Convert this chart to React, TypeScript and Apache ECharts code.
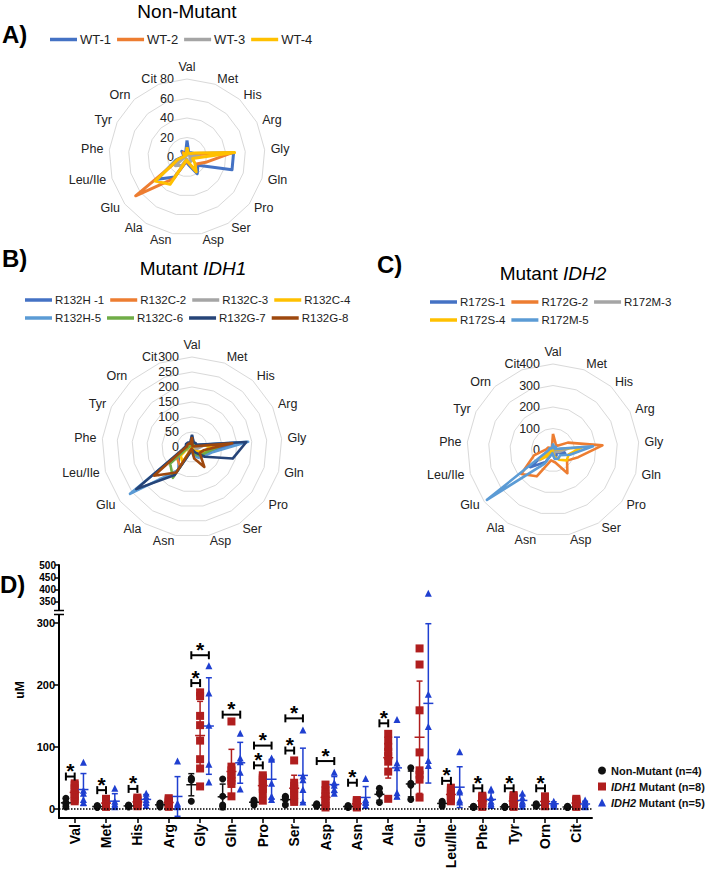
import React, { useEffect, useRef } from "react";
import * as echarts from "echarts";

const FONT = '"Liberation Sans", Arial, Helvetica, sans-serif';

// ---------- categories ----------
const aminoAcids = ["Val", "Met", "His", "Arg", "Gly", "Gln", "Pro", "Ser", "Asp", "Asn", "Ala", "Glu", "Leu/Ile", "Phe", "Tyr", "Orn", "Cit"];

// ---------- Non-mutant samples (uM), order = aminoAcids ----------
const wtNames = ["WT-1", "WT-2", "WT-3", "WT-4"];
const wtColors = ["#4472C4", "#ED7D31", "#A5A5A5", "#FFC000"];
const wt1 = [17, 5, 6, 8, 48, 48, 14, 20, 8, 5, 24, 38, 12, 4, 4, 8, 4];
const wt2 = [8, 3, 4, 5, 46, 20, 12, 15, 6, 4, 26, 66, 8, 3, 3, 6, 3];
const wt3 = [3, 2, 3, 3, 12, 3, 6, 6, 4, 2, 10, 15, 4, 2, 2, 4, 2];
const wt4 = [10, 4, 5, 9, 49, 6, 10, 18, 5, 3, 33, 41, 10, 3, 3, 5, 2];

// ---------- IDH1 mutant samples ----------
const idh1Names = ["R132H -1", "R132C-2", "R132C-3", "R132C-4", "R132H-5", "R132C-6", "R132G-7", "R132G-8"];
const idh1Colors = ["#4472C4", "#ED7D31", "#A5A5A5", "#FFC000", "#5B9BD5", "#70AD47", "#264478", "#9E480E"];
const r132h1 = [28, 12, 14, 13, 150, 62, 47, 37, 25, 11, 85, 55, 25, 15, 14, 13, 10];
const r132c2 = [20, 8, 10, 9, 80, 50, 36, 28, 15, 7, 76, 62, 22, 12, 11, 10, 8];
const r132c3 = [12, 3, 4, 3, 36, 20, 13, 11, 2, 2, 16, 18, 12, 3, 3, 4, 3];
const r132c4 = [15, 6, 8, 7, 65, 45, 25, 15, 5, 3, 60, 47, 15, 6, 5, 6, 4];
const r132h5 = [38, 14, 16, 15, 188, 68, 50, 42, 30, 13, 92, 259, 28, 19, 20, 18, 14];
const r132c6 = [24, 10, 12, 11, 110, 55, 42, 32, 20, 9, 121, 91, 18, 9, 8, 8, 6];
const r132g7 = [41, 16, 18, 17, 182, 141, 54, 22, 10, 14, 110, 233, 34, 21, 22, 20, 16];
const r132g8 = [33, 4, 6, 5, 135, 40, 32, 78, 39, 5, 100, 159, 30, 17, 17, 15, 12];

// ---------- IDH2 mutant samples ----------
const idh2Names = ["R172S-1", "R172G-2", "R172M-3", "R172S-4", "R172M-5"];
const idh2Colors = ["#4472C4", "#ED7D31", "#A5A5A5", "#FFC000", "#5B9BD5"];
const r172s1 = [25, 8, 15, 6, 43, 59, 20, 31, 38, 12, 66, 133, 27, 12, 12, 8, 7];
const r172g2 = [75, 33, 25, 77, 231, 122, 82, 127, 59, 49, 144, 185, 92, 32, 25, 12, 14];
const r172m3 = [15, 5, 10, 4, 72, 32, 15, 11, 25, 5, 20, 78, 14, 5, 4, 4, 3];
const r172s4 = [10, 3, 5, 3, 135, 76, 80, 53, 31, 10, 26, 70, 11, 8, 8, 6, 4];
const r172m5 = [30, 12, 20, 9, 187, 82, 41, 47, 42, 15, 74, 385, 30, 18, 18, 10, 10];

// ---------- dot plot groups ----------
const groupNames = ["Non-Mutant (n=4)", "IDH1 Mutant (n=8)", "IDH2 Mutant (n=5)"];
const groupColors = ["#111111", "#B01E1E", "#1F3FD0"];
const groupSymbols = ["circle", "rect", "triangle"];
const groupSymbolSizes = [7, 8, 7];
const groupOffsets = [-0.28, 0, 0.28];

// significance brackets (value of bracket line, uM)
const sigIdh1Cats = ["Val", "Met", "His", "Gly", "Pro", "Ser", "Asn", "Ala", "Leu/Ile", "Phe", "Tyr", "Orn"];
const sigIdh1Heights = [52, 30, 32, 203, 70, 94, 42, 138, 45, 33, 33, 33];
const sigIdh2Cats = ["Gly", "Gln", "Pro", "Ser", "Asp"];
const sigIdh2Heights = [248, 152, 102, 146, 77];

// axis ticks
const lowerTicks = [0, 100, 200, 300];
const upperTicks = [350, 400, 450, 500];

const reorder = <T,>(a: T[]): T[] => [a[0], ...a.slice(1).reverse()];

export default function App() {
  const ref = useRef<HTMLDivElement>(null);
  useEffect(() => {
    document.body.style.margin = "0";
    document.body.style.background = "#fff";
    if (!ref.current) return;
    const chart = echarts.init(ref.current, undefined, { renderer: "svg" });

    const wtSamples = [wt1, wt2, wt3, wt4];
    const idh1Samples = [r132h1, r132c2, r132c3, r132c4, r132h5, r132c6, r132g7, r132g8];
    const idh2Samples = [r172s1, r172g2, r172m3, r172s4, r172m5];
    const groups = [wtSamples, idh1Samples, idh2Samples];

    const makeRadar = (center: number[], radius: number, max: number, splitNumber: number) => ({
      center,
      radius,
      startAngle: 90,
      shape: "polygon",
      splitNumber,
      nameGap: 6,
      indicator: reorder(aminoAcids).map((n, i) =>
        i === 0 ? { name: n, min: 0, max, axisLabel: { show: true } } : { name: n, min: 0, max }
      ),
      axisName: { color: "#222", fontSize: 12.5, fontFamily: FONT },
      splitLine: { lineStyle: { color: "#d9d9d9", width: 1 } },
      splitArea: { show: false },
      axisLine: { show: false },
      axisTick: { show: false },
      axisLabel: { show: false, color: "#222", fontSize: 12.5, margin: 13, fontFamily: FONT },
    });

    const radarSeries = (idx: number, names: string[], colors: string[], samples: number[][], width: number) => ({
      type: "radar",
      radarIndex: idx,
      symbol: "none",
      silent: true,
      data: samples.map((s, k) => ({
        name: names[k],
        value: reorder(s),
        lineStyle: { color: colors[k], width },
        itemStyle: { color: colors[k] },
      })),
    });

    const radarLegend = (names: string[], left: number, top: number, width: number, fontSize: number) => ({
      data: names,
      left,
      top,
      width,
      padding: 0,
      itemGap: 6,
      itemWidth: 27,
      itemHeight: 3.5,
      icon: "rect",
      selectedMode: false,
      textStyle: { color: "#222", fontSize, fontFamily: FONT, padding: [0, 0, 0, -2] },
    });

    // dot plot points
    const lowerMax = 313;
    const scatterSeries: any[] = [];
    groups.forEach((samples, g) => {
      const low: number[][] = [];
      const high: number[][] = [];
      aminoAcids.forEach((_, i) => {
        samples.forEach((s) => {
          const pt = [i + groupOffsets[g], s[i]];
          (s[i] > lowerMax ? high : low).push(pt);
        });
      });
      const base = {
        type: "scatter",
        name: groupNames[g],
        symbol: groupSymbols[g],
        symbolSize: groupSymbolSizes[g],
        itemStyle: { color: groupColors[g], opacity: 1 },
        silent: true,
        z: 3,
      };
      scatterSeries.push({ ...base, xAxisIndex: 1, yAxisIndex: 1, data: low });
      if (high.length) scatterSeries.push({ ...base, xAxisIndex: 0, yAxisIndex: 0, data: high });
    });

    // mean +- SD
    const errData: number[][] = [];
    groups.forEach((samples, g) => {
      aminoAcids.forEach((_, i) => {
        const vals = samples.map((s) => s[i]);
        const n = vals.length;
        const mean = vals.reduce((a, b) => a + b, 0) / n;
        const sd = Math.sqrt(vals.reduce((a, b) => a + (b - mean) * (b - mean), 0) / (n - 1));
        errData.push([i + groupOffsets[g], mean, sd, g]);
      });
    });

    const bracketData: number[][] = [];
    sigIdh1Cats.forEach((c, k) => bracketData.push([aminoAcids.indexOf(c), sigIdh1Heights[k], 0]));
    sigIdh2Cats.forEach((c, k) => bracketData.push([aminoAcids.indexOf(c), sigIdh2Heights[k], 1]));

    const textStyle = (text: string, font: string, align = "left", v = "top", extra: any = {}) => ({
      text,
      font,
      fill: "#000",
      textAlign: align,
      textVerticalAlign: v,
      align,
      verticalAlign: v,
      ...extra,
    });

    const option: any = {
      animation: false,
      backgroundColor: "#fff",
      textStyle: { fontFamily: FONT },
      radar: [
        makeRadar([187, 157], 78, 80, 4),
        makeRadar([192, 447], 90, 300, 6),
        makeRadar([553, 450], 86, 400, 4),
      ],
      legend: [
        radarLegend(wtNames, 50, 33, 330, 13),
        radarLegend(idh1Names, 25, 294, 345, 11.5),
        radarLegend(idh2Names, 430, 296, 265, 11.5),
        {
          data: groupNames,
          orient: "vertical",
          left: 598,
          top: 765,
          padding: 0,
          itemGap: 5,
          itemWidth: 8,
          itemHeight: 8,
          selectedMode: false,
          formatter: (name: string) =>
            name.startsWith("IDH") ? `{i|${name.slice(0, 4)}}{b|${name.slice(4)}}` : `{b|${name}}`,
          textStyle: {
            color: "#111",
            fontSize: 11,
            fontWeight: "bold",
            fontFamily: FONT,
            rich: {
              i: { fontStyle: "italic", fontWeight: "bold", fontSize: 11, fontFamily: FONT, color: "#111" },
              b: { fontWeight: "bold", fontSize: 11, fontFamily: FONT, color: "#111" },
            },
          },
        },
      ],
      grid: [
        { left: 59, width: 533, top: 565, height: 45, outerBoundsMode: "none" },
        { left: 59, width: 533, top: 615, height: 203, outerBoundsMode: "none" },
      ],
      xAxis: [
        { gridIndex: 0, type: "value", min: -0.5, max: 16.5, show: false },
        {
          gridIndex: 1,
          type: "value",
          min: -0.5,
          max: 16.5,
          splitLine: { show: false },
          axisLine: { onZero: false, lineStyle: { color: "#000", width: 2 } },
          axisTick: { customValues: aminoAcids.map((_, i) => i), length: 5, lineStyle: { color: "#000", width: 1.5 } },
          axisLabel: {
            customValues: aminoAcids.map((_, i) => i),
            formatter: (v: number) => aminoAcids[Math.round(v)],
            rotate: 90,
            margin: 6,
            color: "#000",
            fontWeight: "bold",
            fontSize: 14,
            fontFamily: FONT,
          },
        },
      ],
      yAxis: [
        {
          gridIndex: 0,
          type: "value",
          min: 317,
          max: 500,
          splitLine: { show: false },
          axisLine: { show: true, onZero: false, lineStyle: { color: "#000", width: 2 } },
          axisTick: { show: true, customValues: upperTicks, length: 4, lineStyle: { color: "#000", width: 1.5 } },
          axisLabel: { customValues: upperTicks, margin: 3, color: "#000", fontWeight: "bold", fontSize: 10, fontFamily: FONT },
        },
        {
          gridIndex: 1,
          type: "value",
          min: -15,
          max: lowerMax,
          splitLine: { show: false },
          axisLine: { show: true, onZero: false, lineStyle: { color: "#000", width: 2 } },
          axisTick: { show: true, customValues: lowerTicks, length: 5, lineStyle: { color: "#000", width: 1.5 } },
          axisLabel: { customValues: lowerTicks, margin: 4, color: "#000", fontWeight: "bold", fontSize: 11, fontFamily: FONT },
        },
      ],
      series: [
        radarSeries(0, wtNames, wtColors, wtSamples, 3),
        radarSeries(1, idh1Names, idh1Colors, idh1Samples, 2.6),
        radarSeries(2, idh2Names, idh2Colors, idh2Samples, 2.6),
        ...scatterSeries,
        {
          type: "custom",
          name: "errorbars",
          xAxisIndex: 1,
          yAxisIndex: 1,
          silent: true,
          z: 4,
          data: errData,
          encode: { x: 0, y: 1 },
          renderItem: (params: any, api: any) => {
            const x = api.value(0);
            const m = api.value(1);
            const sd = api.value(2);
            const color = groupColors[api.value(3)];
            const top = api.coord([x, m + sd]);
            const bot = api.coord([x, m - sd]);
            const mid = api.coord([x, m]);
            const st = { stroke: color, lineWidth: 1.5 };
            return {
              type: "group",
              children: [
                { type: "line", shape: { x1: top[0], y1: top[1], x2: bot[0], y2: bot[1] }, style: st },
                { type: "line", shape: { x1: top[0] - 3, y1: top[1], x2: top[0] + 3, y2: top[1] }, style: st },
                { type: "line", shape: { x1: bot[0] - 3, y1: bot[1], x2: bot[0] + 3, y2: bot[1] }, style: st },
                { type: "line", shape: { x1: mid[0] - 5, y1: mid[1], x2: mid[0] + 5, y2: mid[1] }, style: st },
              ],
            };
          },
        },
        {
          type: "custom",
          name: "brackets",
          xAxisIndex: 1,
          yAxisIndex: 1,
          silent: true,
          z: 5,
          data: bracketData,
          encode: { x: 0, y: 1 },
          renderItem: (params: any, api: any) => {
            const c = api.value(0);
            const y = api.value(1);
            const kind = api.value(2);
            const p1 = api.coord([c + groupOffsets[0], y]);
            const p2 = api.coord([c + (kind === 1 ? groupOffsets[2] : groupOffsets[1]), y]);
            const st = { stroke: "#000", lineWidth: 2 };
            return {
              type: "group",
              children: [
                { type: "line", shape: { x1: p1[0], y1: p1[1], x2: p2[0], y2: p2[1] }, style: st },
                { type: "line", shape: { x1: p1[0], y1: p1[1] - 4, x2: p1[0], y2: p1[1] + 4 }, style: st },
                { type: "line", shape: { x1: p2[0], y1: p2[1] - 4, x2: p2[0], y2: p2[1] + 4 }, style: st },
                {
                  type: "text",
                  x: (p1[0] + p2[0]) / 2,
                  y: p1[1] - 6,
                  style: {
                    text: "*",
                    font: `bold 21px ${FONT}`,
                    fill: "#000",
                    textAlign: "center",
                    textVerticalAlign: "middle",
                    align: "center",
                    verticalAlign: "middle",
                  },
                },
              ],
            };
          },
        },
        {
          type: "line",
          name: "zero",
          xAxisIndex: 1,
          yAxisIndex: 1,
          data: [],
          silent: true,
          markLine: {
            silent: true,
            symbol: "none",
            label: { show: false },
            lineStyle: { type: "dotted", color: "#000", width: 1.5 },
            data: [{ yAxis: 0 }],
          },
        },
      ],
      graphic: [
        { type: "text", x: 2, y: 22, style: textStyle("A)", `bold 24px ${FONT}`) },
        { type: "text", x: 187, y: 11, style: textStyle("Non-Mutant", `19px ${FONT}`, "center", "middle") },
        { type: "text", x: 2, y: 246, style: textStyle("B)", `bold 24px ${FONT}`) },
        {
          type: "text",
          x: 193,
          y: 268,
          style: textStyle("{n|Mutant }{i|IDH1}", `19px ${FONT}`, "center", "middle", {
            rich: {
              n: { fontSize: 19, fontFamily: FONT, fill: "#000", color: "#000" },
              i: { fontSize: 19, fontStyle: "italic", fontFamily: FONT, fill: "#000", color: "#000" },
            },
          }),
        },
        { type: "text", x: 377, y: 252, style: textStyle("C)", `bold 24px ${FONT}`) },
        {
          type: "text",
          x: 553,
          y: 273,
          style: textStyle("{n|Mutant }{i|IDH2}", `19px ${FONT}`, "center", "middle", {
            rich: {
              n: { fontSize: 19, fontFamily: FONT, fill: "#000", color: "#000" },
              i: { fontSize: 19, fontStyle: "italic", fontFamily: FONT, fill: "#000", color: "#000" },
            },
          }),
        },
        { type: "text", x: 0, y: 572, style: textStyle("D)", `bold 24px ${FONT}`) },
        { type: "text", x: 20, y: 690, rotation: Math.PI / 2, style: textStyle("uM", `bold 12px ${FONT}`, "center", "middle") },
        { type: "line", shape: { x1: 54, y1: 610.5, x2: 64, y2: 610.5 }, style: { stroke: "#000", lineWidth: 1.5 } },
        { type: "line", shape: { x1: 54, y1: 614.5, x2: 64, y2: 614.5 }, style: { stroke: "#000", lineWidth: 1.5 } },
      ],
    };

    chart.setOption(option);
    return () => chart.dispose();
  }, []);

  return <div ref={ref} style={{ width: 709, height: 871, background: "#fff" }} />;
}
